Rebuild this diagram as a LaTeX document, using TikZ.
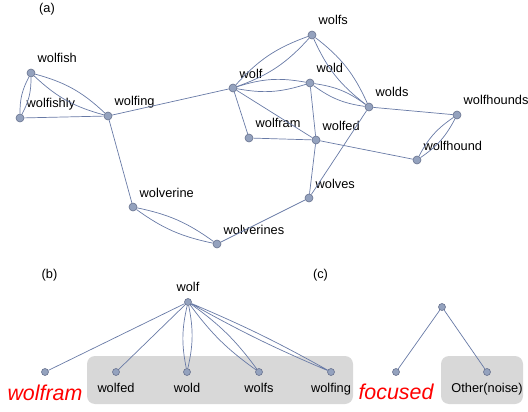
\documentclass[tikz,border=0pt]{standalone}
\usepackage{fontspec}
\setmainfont{Liberation Sans}
\definecolor{vfill}{RGB}{148,162,190}
\definecolor{vline}{RGB}{104,114,142}
\definecolor{eline}{RGB}{104,122,166}
\definecolor{boxgray}{RGB}{216,216,216}
\begin{document}
\begin{tikzpicture}[x=1pt,y=-1pt,
  vtx/.style={circle,fill=vfill,draw=vline,line width=0.6pt,inner sep=0pt,minimum size=8pt},
  leaf/.style={vtx,minimum size=7pt},
  lbl/.style={anchor=base west,inner sep=0pt,font=\fontsize{12.8}{15}\selectfont},
  sub/.style={anchor=base,inner sep=0pt,font=\fontsize{12.8}{15}\selectfont},
  big/.style={anchor=base,inner sep=0pt,text=red,font=\fontsize{21.4}{24}\selectfont\itshape},
  edge/.style={draw=eline,line width=0.7pt},
  grp/.style={fill=boxgray,rounded corners=8pt}]
\useasboundingbox (0,0) rectangle (528,412);

%panel labels
\node[sub,anchor=center] (pa) at (47,9) {(a)};
\node[sub,anchor=center] (pb) at (49.5,275) {(b)};
\node[sub,anchor=center] (pc) at (320.5,275) {(c)};

%(a) word graph
\foreach \n/\x/\y in {wolfish/31/73, wolfishly/20/118, wolfing/108/116, wolf/233/88,
  wolfs/312/35, wold/310/83, wolds/369/107, wolfhounds/457/115, wolfram/249/138,
  wolfed/316/140, wolfhound/417/160, wolves/309/198, wolverine/133/207, wolverines/217/244}
{
  \node[vtx] (\n) at (\x,\y) {};
  \node[lbl] (\n-t) at ([shift={(6.5,-10)}]\n.center) {\n};
}

%double edges
\draw[edge] (wolfish) to[bend left=14] (wolfishly) (wolfish) to[bend right=14] (wolfishly);
\draw[edge] (wolfish) to[bend left=14] (wolfing) (wolfish) to[bend right=14] (wolfing);
\draw[edge] (wolverine) to[bend left=12] (wolverines) (wolverine) to[bend right=12] (wolverines);
\draw[edge] (wolf) to[bend left=14] (wolfs) (wolf) to[bend right=14] (wolfs);
\draw[edge] (wolf) to[bend left=14] (wold) (wolf) to[bend right=14] (wold);
\draw[edge] (wold) to[bend left=14] (wolds) (wold) to[bend right=14] (wolds);
\draw[edge] (wolfs) to[bend left=14] (wolds) (wolfs) to[bend right=14] (wolds);
\draw[edge] (wolfhounds) to[bend left=14] (wolfhound) (wolfhounds) to[bend right=14] (wolfhound);

%single edges
\draw[edge] (wolfishly) -- (wolfing);
\draw[edge] (wolfing) -- (wolf);
\draw[edge] (wolfing) -- (wolverine);
\draw[edge] (wolverines) -- (wolves);
\draw[edge] (wolf) -- (wolfram);
\draw[edge] (wolf) -- (wolfed);
\draw[edge] (wold) -- (wolfed);
\draw[edge] (wolfram) -- (wolfed);
\draw[edge] (wolfed) -- (wolfhound);
\draw[edge] (wolfed) -- (wolves);
\draw[edge] (wolds) -- (wolves);
\draw[edge] (wolds) -- (wolfhounds);

%(b) tree of wolf
\node[grp,minimum width=266pt,minimum height=48pt] (bbox) at (220,380) {};
\node[leaf] (b-wolf) at (188,302) {};
\node[sub] (b-wolf-t) at ([shift={(0,-10.5)}]b-wolf.center) {wolf};
\node[leaf] (b-wolfram) at (45,372) {};
\node[big] (b-wolfram-t) at (45,400) {wolfram};
\foreach \n/\x in {wolfed/116, wold/187, wolfs/259, wolfing/331}
{
  \node[leaf] (b-\n) at (\x,372) {};
  \node[sub] (b-\n-t) at ([shift={(0,20.5)}]b-\n.center) {\n};
}
\draw[edge] (b-wolf) -- (b-wolfram);
\draw[edge] (b-wolf) -- (b-wolfed);
\draw[edge] (b-wolf) to[bend left=12] (b-wold) (b-wolf) to[bend right=12] (b-wold);
\draw[edge] (b-wolf) to[bend left=9] (b-wolfs) (b-wolf) to[bend right=9] (b-wolfs);
\draw[edge] (b-wolf) to[bend left=3] (b-wolfing) (b-wolf) to[bend right=3] (b-wolfing);

%(c) focused vs noise
\node[grp,minimum width=82pt,minimum height=48pt] (cbox) at (482,380) {};
\node[leaf] (c-top) at (442,307) {};
\node[leaf] (c-focused) at (396,372) {};
\node[leaf] (c-other) at (487,372) {};
\node[big] (c-focused-t) at (396,399) {focused};
\node[sub] (c-other-t) at ([shift={(0,20.5)}]c-other.center) {Other(noise)};
\draw[edge] (c-top) -- (c-focused);
\draw[edge] (c-top) -- (c-other);

\end{tikzpicture}
\end{document}
